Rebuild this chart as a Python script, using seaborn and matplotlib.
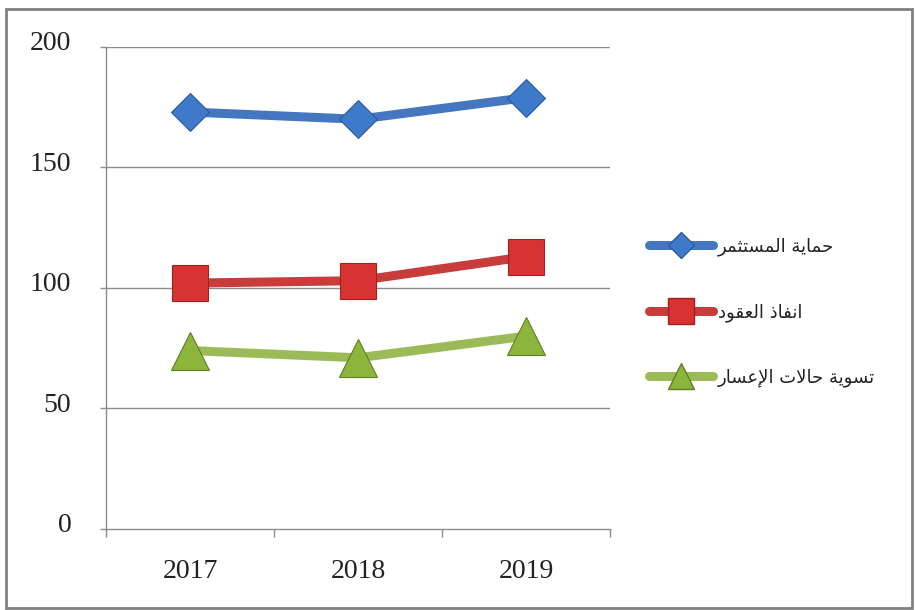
import matplotlib
matplotlib.use("Agg")
import matplotlib.pyplot as plt
import matplotlib.transforms as mtransforms
from matplotlib.lines import Line2D
from matplotlib.patches import Rectangle
import seaborn as sns
import pandas as pd

# ---- data -------------------------------------------------------------
years = ["2017", "2018", "2019"]
series_names = ["حماية المستثمر", "انفاذ العقود", "تسوية حالات الإعسار"]
investor_protection = [173, 170, 179]
contract_enforcement = [102, 103, 113]
insolvency_resolution = [74, 71, 80]
y_ticks = [0, 50, 100, 150, 200]

values = [investor_protection, contract_enforcement, insolvency_resolution]
line_colors = ["#4577c0", "#c83c3c", "#9bbb59"]
marker_colors = ["#3f79c9", "#d93232", "#8cb53c"]
marker_edges = ["#2d5a9a", "#9e2222", "#5f7f24"]
markers = ["D", "s", "^"]
marker_sizes = [19, 26, 27]

# ---- minimal Arabic shaping (presentation forms, visual order) --------
DUAL = {
    "ب": "\uFE8F\uFE90\uFE91\uFE92", "ت": "\uFE95\uFE96\uFE97\uFE98",
    "ث": "\uFE99\uFE9A\uFE9B\uFE9C", "ح": "\uFEA1\uFEA2\uFEA3\uFEA4",
    "س": "\uFEB1\uFEB2\uFEB3\uFEB4", "ع": "\uFEC9\uFECA\uFECB\uFECC",
    "ف": "\uFED1\uFED2\uFED3\uFED4", "ق": "\uFED5\uFED6\uFED7\uFED8",
    "ل": "\uFEDD\uFEDE\uFEDF\uFEE0", "م": "\uFEE1\uFEE2\uFEE3\uFEE4",
    "ن": "\uFEE5\uFEE6\uFEE7\uFEE8", "ي": "\uFEF1\uFEF2\uFEF3\uFEF4",
}
RIGHT = {
    "ا": "\uFE8D\uFE8E", "إ": "\uFE87\uFE88", "ة": "\uFE93\uFE94",
    "د": "\uFEA9\uFEAA", "ذ": "\uFEAB\uFEAC", "ر": "\uFEAD\uFEAE",
    "و": "\uFEED\uFEEE",
}
LAM_ALEF = {"ا": "\uFEFB\uFEFC", "إ": "\uFEF9\uFEFA"}


def shape_arabic(text):
    out = []
    prev_joins = False
    i = 0
    while i < len(text):
        c = text[i]
        nxt = text[i + 1] if i + 1 < len(text) else ""
        if c == "ل" and nxt in LAM_ALEF:
            forms = LAM_ALEF[nxt]
            out.append(forms[1] if prev_joins else forms[0])
            prev_joins = False
            i += 2
            continue
        if c in DUAL:
            forms = DUAL[c]
            joins_next = nxt in DUAL or nxt in RIGHT
            if prev_joins and joins_next:
                out.append(forms[3])
            elif prev_joins:
                out.append(forms[1])
            elif joins_next:
                out.append(forms[2])
            else:
                out.append(forms[0])
            prev_joins = joins_next
        elif c in RIGHT:
            forms = RIGHT[c]
            out.append(forms[1] if prev_joins else forms[0])
            prev_joins = False
        else:
            out.append(c)
            prev_joins = False
        i += 1
    return "".join(reversed(out))


# ---- figure -----------------------------------------------------------
sns.set_theme(style="white")
plt.rcParams["font.family"] = ["Liberation Serif", "DejaVu Serif"]

fig = plt.figure(figsize=(9.15, 6.10), dpi=100)
ax = fig.add_axes([0.116, 0.133, 0.551, 0.790])

rows = []
for name, vals in zip(series_names, values):
    for yr, v in zip(years, vals):
        rows.append({"year": yr, "value": v, "series": name})
df = pd.DataFrame(rows)

for k, name in enumerate(series_names):
    sns.pointplot(
        data=df[df["series"] == name], x="year", y="value", order=years,
        color=line_colors[k], markers=markers[k], errorbar=None,
        linewidth=6.5, markersize=marker_sizes[k], ax=ax, zorder=3 + k,
    )
    ln = ax.lines[-1]
    ln.set_markerfacecolor(marker_colors[k])
    ln.set_markeredgecolor(marker_edges[k])
    ln.set_markeredgewidth(0.8)
    ln.set_solid_capstyle("round")
    ln.set_solid_joinstyle("round")

# axes styling
ax.set_xlim(-0.5, 2.5)
ax.set_ylim(0, 200)
ax.set_yticks(y_ticks)
ax.set_yticklabels([str(t) for t in y_ticks])
ax.set_xticks([-0.5, 0.5, 1.5, 2.5])
ax.set_xticklabels([])
ax.set_xticks([0, 1, 2], minor=True)
ax.set_xticklabels(years, minor=True)
ax.set_xlabel("")
ax.set_ylabel("")

grid_color = "#8c8c8c"
for t in y_ticks[1:]:
    ax.axhline(t, color=grid_color, lw=1.0, zorder=1)

for side in ["top", "right"]:
    ax.spines[side].set_visible(False)
for side in ["left", "bottom"]:
    ax.spines[side].set_color(grid_color)
    ax.spines[side].set_linewidth(1.0)

ax.tick_params(axis="y", which="major", left=True, direction="out", length=4,
               width=1, color=grid_color, pad=21, labelsize=20,
               labelcolor="#222222")
ax.tick_params(axis="x", which="major", bottom=True, direction="out", length=6,
               width=1, color=grid_color)
ax.tick_params(axis="x", which="minor", bottom=True, length=0, pad=22,
               labelsize=20, labelcolor="#222222")

# y labels sit slightly above their gridlines
offset = mtransforms.ScaledTranslation(0, 6 / 100, fig.dpi_scale_trans)
for lab in ax.get_yticklabels():
    lab.set_transform(lab.get_transform() + offset)

# legend
handles = [
    Line2D([0], [0], color=line_colors[k], lw=6.5, marker=markers[k],
           markersize=marker_sizes[k] * 0.7, markerfacecolor=marker_colors[k],
           markeredgecolor=marker_edges[k], solid_capstyle="round")
    for k in range(3)
]
leg = fig.legend(
    handles, [shape_arabic(n) for n in series_names],
    loc="center left", bbox_to_anchor=(0.692, 0.488),
    frameon=False, handlelength=3.5, handletextpad=0.3, labelspacing=2.6,
    prop={"family": ["DejaVu Sans"], "size": 13},
)
for txt in leg.get_texts():
    txt.set_color("#222222")

# outer frame
fig.patches.append(Rectangle((0.007, 0.004), 0.990, 0.981, transform=fig.transFigure,
                             fill=False, edgecolor="#808080", lw=2.0))

fig.savefig("out.png", dpi=100)
